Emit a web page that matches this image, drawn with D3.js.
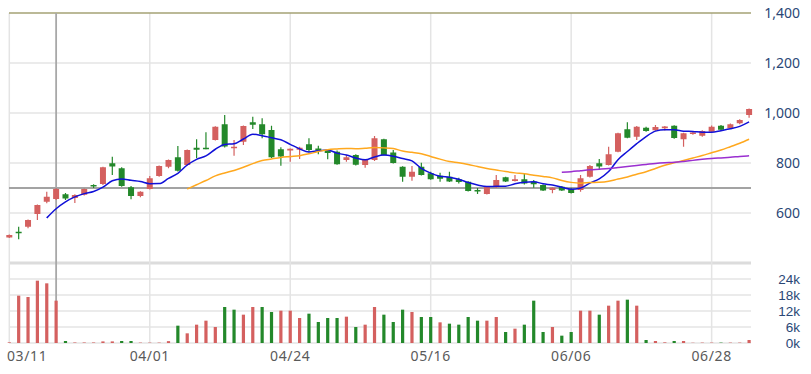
<!DOCTYPE html>
<html>
<head>
<meta charset="utf-8">
<script src="https://cdn.jsdelivr.net/npm/d3@7"></script>
<style>
  body { margin: 0; background: #fff; }
  svg { display: block; font-family: "Noto Sans", "DejaVu Sans", sans-serif; }
</style>
</head>
<body>
<svg width="811" height="374"></svg>
<script>
// daily candles, 80 sessions
const open  = [502,525,545,596,645,656,675,660,673,712, 716,799,779,703,668,696,748,785,823,792,
               861,861,892,955,859,885,963,955,932,855, 850,853,875,858,852,845,812,832,792,812,
               895,842,785,745,785,759,749,745,735,725, 692,676,703,743,728,735,725,712,692,705,
               695,692,745,799,792,845,935,905,941,931, 939,949,895,917,909,925,949,939,959,992];
const high  = [514,545,574,634,685,700,680,675,698,715, 785,825,783,708,687,748,790,814,868,854,
               895,923,947,992,892,950,985,979,949,863, 858,865,899,869,855,850,832,835,814,908,
               897,852,787,788,801,765,761,765,741,727, 700,707,752,745,752,759,732,714,703,708,
               701,752,792,816,865,921,963,948,945,952, 948,951,921,926,931,950,952,958,975,1018];
const low   = [500,495,539,572,639,652,652,640,670,700, 712,752,705,655,663,694,745,779,766,790,
               819,855,890,862,829,872,936,899,820,789, 805,816,843,835,815,793,805,790,781,808,
               830,798,725,729,750,733,725,724,718,686, 676,674,700,724,726,714,701,688,679,688,
               678,685,742,772,790,843,899,892,925,929, 930,897,865,913,905,923,930,937,955,981];
const close = [512,521,572,632,665,696,658,672,696,708, 783,786,708,668,685,739,788,812,769,852,
               853,856,945,866,865,948,953,915,823,826, 857,861,852,849,840,795,823,793,812,899,
               832,800,745,765,752,735,737,726,724,688, 686,705,732,726,735,718,715,690,701,690,
               680,739,788,786,835,919,901,945,928,944, 946,900,919,922,928,945,933,955,972,1016];
const volume = [250,17750,17250,23375,22375,15875,750,200,200,200, 600,600,750,750,150,150,150,700,6500,3625,
                6875,8375,6000,13500,12500,10625,13500,13500,11625,12125, 12125,9375,11000,7875,9375,9375,9875,6000,6875,13500,
                10625,7875,12500,11625,9750,9750,7750,7250,6875,9750, 8375,8375,9750,4125,5375,6875,15875,4125,6000,2750,
                4125,12125,12125,10625,14000,15875,16250,14000,1125,750, 250,750,750,100,150,150,150,150,150,1125];

const tickIdx = [0, 15, 30, 45, 60, 75];
const tickLabels = ['03/11', '04/01', '04/24', '05/16', '06/06', '06/28'];
const priceTicks = [600, 800, 1000, 1200, 1400];
const volTicks = [0, 6000, 12000, 18000, 24000];
const maPeriods = [5, 20, 60];
const maColors = ['#1010d8', '#ffa81e', '#9a2fd0'];
const cursorIdx = 5, cursorPrice = 700;

const UP = '#d4605f', DOWN = '#23882a';

const svg = d3.select('svg');
const left = 9, right = 751;

const x = d3.scaleLinear().domain([0, 79]).range([9.3, 749.1]);
const y = d3.scaleLinear().domain([420, 1400]).range([258, 13]);
const yv = d3.scaleLinear().domain([0, 30000]).range([343, 263]);

const grid = svg.append('g');

// horizontal grid, price panel
grid.selectAll('.hp').data(priceTicks.filter(d => d < 1400)).enter().append('line')
  .attr('x1', left).attr('x2', right)
  .attr('y1', d => y(d)).attr('y2', d => y(d))
  .attr('stroke', '#e4e4e4').attr('stroke-width', 1.5);

// horizontal grid, volume panel
grid.selectAll('.hv').data(volTicks).enter().append('line')
  .attr('x1', left).attr('x2', right)
  .attr('y1', d => yv(d)).attr('y2', d => yv(d))
  .attr('stroke', '#e4e4e4').attr('stroke-width', 1.5);

grid.append('line')
  .attr('x1', left).attr('x2', right)
  .attr('y1', yv(30000)).attr('y2', yv(30000))
  .attr('stroke', '#dcdcdc').attr('stroke-width', 3);

// vertical grid
grid.selectAll('.vg').data(tickIdx).enter().append('line')
  .attr('x1', d => x(d)).attr('x2', d => x(d))
  .attr('y1', y(1400)).attr('y2', yv(0))
  .attr('stroke', '#e4e4e4').attr('stroke-width', 1.5);

// top border
grid.append('line')
  .attr('x1', left).attr('x2', right)
  .attr('y1', y(1400)).attr('y2', y(1400))
  .attr('stroke', '#a5a275').attr('stroke-width', 1.5);

// crosshair
grid.append('line')
  .attr('x1', left).attr('x2', right)
  .attr('y1', y(cursorPrice)).attr('y2', y(cursorPrice))
  .attr('stroke', '#a3a3a3').attr('stroke-width', 2);
grid.append('line')
  .attr('x1', x(cursorIdx)).attr('x2', x(cursorIdx))
  .attr('y1', y(1400)).attr('y2', yv(0))
  .attr('stroke', '#a8a8a8').attr('stroke-width', 1.8);

const idx = d3.range(close.length);

// volume bars: colour by change from previous close
const volColor = i => (i === 0 ? close[0] >= open[0] : close[i] >= close[i - 1]) ? UP : DOWN;
svg.append('g').selectAll('rect').data(idx).enter().append('rect')
  .attr('x', i => x(i) - 1.6)
  .attr('width', 3.2)
  .attr('y', i => yv(volume[i]))
  .attr('height', i => yv(0) - yv(volume[i]))
  .attr('fill', volColor);

// candles
const candle = svg.append('g').selectAll('g').data(idx).enter().append('g');
const cColor = i => close[i] >= open[i] ? UP : DOWN;
candle.append('line')
  .attr('x1', i => x(i)).attr('x2', i => x(i))
  .attr('y1', i => y(high[i])).attr('y2', i => y(low[i]))
  .attr('stroke', cColor).attr('stroke-width', 1.2);
candle.append('rect')
  .attr('x', i => x(i) - 3)
  .attr('width', 6)
  .attr('y', i => y(Math.max(open[i], close[i])))
  .attr('height', i => Math.max(1.5, Math.abs(y(open[i]) - y(close[i]))))
  .attr('fill', cColor);

// moving averages
maPeriods.forEach((n, k) => {
  const pts = idx.filter(i => i >= n - 1)
    .map(i => [i, d3.mean(close.slice(i - n + 1, i + 1))]);
  svg.append('path')
    .datum(pts)
    .attr('fill', 'none')
    .attr('stroke', maColors[k])
    .attr('stroke-width', 1.5)
    .attr('d', d3.line().x(d => x(d[0])).y(d => y(d[1])).curve(d3.curveMonotoneX));
});

// right axis labels
const fmt = d3.format(',');
svg.append('g').selectAll('text').data(priceTicks).enter().append('text')
  .attr('x', 800).attr('y', d => y(d)).attr('dy', '0.36em')
  .attr('text-anchor', 'end')
  .attr('font-size', 14).attr('fill', '#2a4776')
  .text(d => fmt(d));

// tight rows: Liberation Sans keeps the line box under the 16px row
svg.append('g').selectAll('text').data(volTicks).enter().append('text')
  .attr('x', 800).attr('y', d => yv(d)).attr('dy', '0.36em')
  .attr('text-anchor', 'end')
  .attr('font-family', '"Liberation Sans", Arial, sans-serif')
  .attr('font-size', 13.5).attr('fill', '#2a4776')
  .text(d => (d / 1000) + 'k');

// date labels
svg.append('g').selectAll('text').data(tickIdx).enter().append('text')
  .attr('x', (d, i) => i === 0 ? 7 : x(d))
  .attr('y', 361)
  .attr('text-anchor', (d, i) => i === 0 ? 'start' : 'middle')
  .attr('font-size', 14).attr('fill', '#5a5a5a')
  .attr('letter-spacing', 0.6)
  .text((d, i) => tickLabels[i]);
</script>
</body>
</html>
